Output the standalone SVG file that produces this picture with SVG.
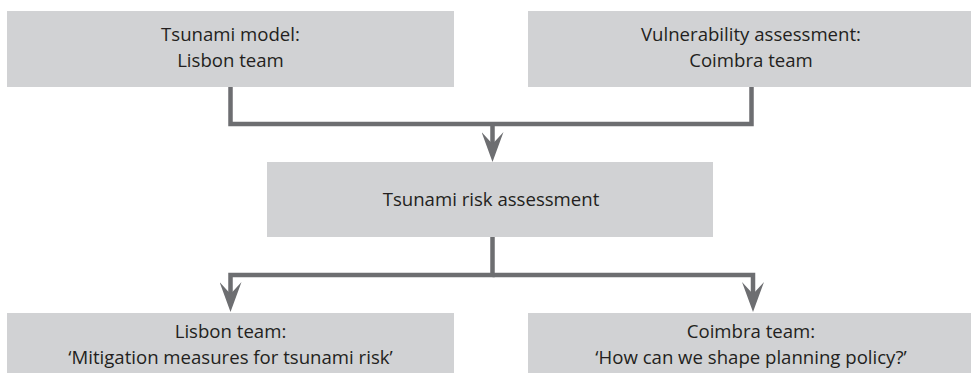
<svg xmlns="http://www.w3.org/2000/svg" width="971" height="382" viewBox="0 0 971 382">
  <style>
    .box { fill: #d1d2d4; }
    .lbl { font-family: "Open Sans", "Liberation Sans", sans-serif; font-size: 18.6px; fill: #231f20; text-anchor: middle; }
    .conn { fill: none; stroke: #6d6e71; stroke-width: 4.5; stroke-linejoin: miter; }
  </style>
  <defs>
    <marker id="arrow" viewBox="0 0 30 22" refX="14" refY="11" markerWidth="30" markerHeight="22" markerUnits="userSpaceOnUse" orient="auto">
      <path d="M30,11 L0,0 L12,11 L0,22 Z" fill="#6d6e71"/>
    </marker>
  </defs>
  <rect width="971" height="382" fill="#ffffff"/>

  <g id="node-tsunami-model">
    <rect class="box" x="7" y="11" width="447" height="76"/>
    <text class="lbl" x="230.5" y="41">Tsunami model:</text>
    <text class="lbl" x="230.5" y="67">Lisbon team</text>
  </g>
  <g id="node-vulnerability">
    <rect class="box" x="528" y="11" width="443" height="76"/>
    <text class="lbl" x="751" y="41">Vulnerability assessment:</text>
    <text class="lbl" x="751" y="67">Coimbra team</text>
  </g>
  <g id="node-risk">
    <rect class="box" x="267" y="162" width="446" height="75"/>
    <text class="lbl" x="491" y="206">Tsunami risk assessment</text>
  </g>
  <g id="node-lisbon-mitigation">
    <rect class="box" x="7" y="313" width="447" height="60"/>
    <text class="lbl" x="230.5" y="338">Lisbon team:</text>
    <text class="lbl" x="230.5" y="364">‘Mitigation measures for tsunami risk’</text>
  </g>
  <g id="node-coimbra-policy">
    <rect class="box" x="528" y="313" width="443" height="60"/>
    <text class="lbl" x="751" y="338">Coimbra team:</text>
    <text class="lbl" x="751" y="364">‘How can we shape planning policy?’</text>
  </g>

  <g id="connectors">
    <path class="conn" d="M230.5,87 V124 H751.5 V87"/>
    <path class="conn" d="M492.5,124 V146" marker-end="url(#arrow)"/>
    <path class="conn" d="M492.5,237 V275 H230.5 V296" marker-end="url(#arrow)"/>
    <path class="conn" d="M492.5,275 H753 V296" marker-end="url(#arrow)"/>
  </g>
</svg>
